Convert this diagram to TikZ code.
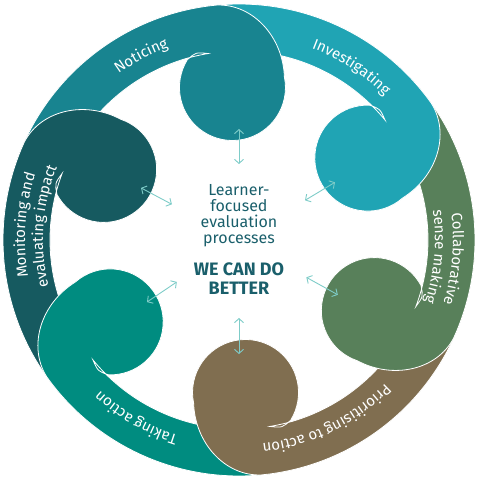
\documentclass[tikz,border=0pt]{standalone}
\usepackage{fontspec}
\setmainfont{Fira Sans}
\usetikzlibrary{arrows.meta, decorations.text}
\definecolor{noticing}{HTML}{188490}
\definecolor{investigating}{HTML}{20A4B4}
\definecolor{collaborative}{HTML}{58805A}
\definecolor{prioritising}{HTML}{806E50}
\definecolor{taking}{HTML}{008C80}
\definecolor{monitoring}{HTML}{165A60}
\definecolor{pfeilfarbe}{HTML}{7ECCC8}
\definecolor{mittelfarbe}{HTML}{1A5F6B}
\newcommand{\koru}{(158:236) arc[start angle=158, end angle=92, radius=236]
	.. controls (28,235) and (56,200) .. (55,160)
	arc[start angle=8, end angle=-215, radius=53]
	.. controls (-32,190) .. (96:189)
	arc[start angle=96, end angle=158, radius=189] -- cycle}
\newcommand{\bogenschrift}{\fontsize{15}{15}\selectfont}
\tikzset{blatt/.style={draw=white, line width=0.8pt},
	pfeil/.style={draw=pfeilfarbe, line width=0.9pt,
		{Straight Barb[length=4pt,width=9pt]}-{Straight Barb[length=4pt,width=9pt]}},
	bogen/.style={decorate, decoration={text along path, text align=center, text color=white}},
	mitte/.style={text=mittelfarbe, align=center, inner sep=0pt} }

\begin{document}
\begin{tikzpicture}[x=1pt, y=1pt]
	\useasboundingbox (-239,-239) rectangle (241,240);

	\fill[investigating, blatt, rotate=-56.6] \koru;
	\fill[noticing, blatt, rotate=3.4] \koru;
	\fill[monitoring, blatt, rotate=63.4] \koru;
	\fill[taking, blatt, rotate=123.4] \koru;
	\fill[prioritising, blatt, rotate=183.4] \koru;
	\fill[collaborative, blatt, rotate=243.4] \koru;
	\begin{scope}
		\clip (0,0) -- (5:250) arc[start angle=5, end angle=50, radius=250] -- cycle;
		\fill[investigating, blatt, rotate=-56.6] \koru;
	\end{scope}

	\path[bogen, decoration={text={|\bogenschrift|Noticing}}]
		(158:205) arc[start angle=158, end angle=78, radius=205];
	\path[bogen, decoration={text={|\bogenschrift|Investigating}}]
		(97:205) arc[start angle=97, end angle=17, radius=205];
	\path[bogen, decoration={text={|\bogenschrift|Collaborative}}]
		(35:214) arc[start angle=35, end angle=-45, radius=214];
	\path[bogen, decoration={text={|\bogenschrift|sense making}}]
		(35:196) arc[start angle=35, end angle=-45, radius=196];
	\path[bogen, decoration={text={|\bogenschrift|Prioritising to action}}]
		(-24:205) arc[start angle=-24, end angle=-104, radius=205];
	\path[bogen, decoration={text={|\bogenschrift|Taking action}}]
		(-80:205) arc[start angle=-80, end angle=-160, radius=205];
	\path[bogen, decoration={text={|\bogenschrift|Monitoring and}}]
		(216:214) arc[start angle=216, end angle=136, radius=214];
	\path[bogen, decoration={text={|\bogenschrift|evaluating impact}}]
		(216:196) arc[start angle=216, end angle=136, radius=196];

	\node[mitte, font=\fontsize{16}{16}\selectfont] (lernen) at (0,24)
		{Learner-\\focused\\evaluation\\processes};
	\node[mitte, font=\bfseries\fontsize{18}{19}\selectfont] (besser) at (0,-39)
		{WE CAN DO\\BETTER};

	\coordinate (noticing-i) at (90:76);
	\coordinate (noticing-a) at (90:111);
	\coordinate (investigating-i) at (31:77);
	\coordinate (investigating-a) at (31:112);
	\coordinate (collaborative-i) at (-29:77);
	\coordinate (collaborative-a) at (-29:113);
	\coordinate (prioritising-i) at (-90:78);
	\coordinate (prioritising-a) at (-90:114);
	\coordinate (taking-i) at (-146:75);
	\coordinate (taking-a) at (-146:111);
	\coordinate (monitoring-i) at (152:76);
	\coordinate (monitoring-a) at (152:111);

	\draw[pfeil] (noticing-i) -- (noticing-a);
	\draw[pfeil] (investigating-i) -- (investigating-a);
	\draw[pfeil] (collaborative-i) -- (collaborative-a);
	\draw[pfeil] (prioritising-i) -- (prioritising-a);
	\draw[pfeil] (taking-i) -- (taking-a);
	\draw[pfeil] (monitoring-i) -- (monitoring-a);
\end{tikzpicture}
\end{document}
